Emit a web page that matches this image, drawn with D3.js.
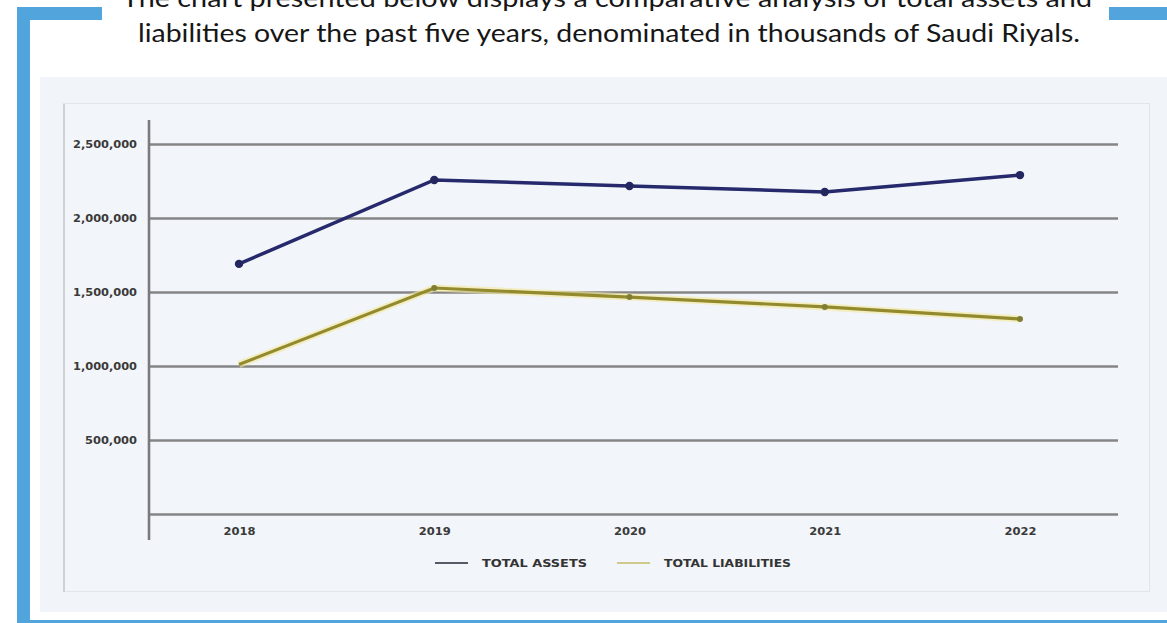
<!DOCTYPE html>
<html><head><meta charset="utf-8">
<script src="https://cdn.jsdelivr.net/npm/d3@7"></script>
<style>body{margin:0;background:#fff}svg{display:block}</style>
</head><body>
<svg id="c" width="1167" height="623"></svg>
<script>
const years = ["2018","2019","2020","2021","2022"];
const totalAssets = [1690000, 2257000, 2216000, 2176000, 2290000];
const totalLiabilities = [1010000, 1527000, 1466000, 1399000, 1318000];
const yTicks = [0, 500000, 1000000, 1500000, 2000000, 2500000];
const titleLines = [
  "The chart presented below displays a comparative analysis of total assets and",
  "liabilities over the past five years, denominated in thousands of Saudi Riyals."
];
const legendLabels = ["TOTAL ASSETS", "TOTAL LIABILITIES"];

const svg = d3.select("#c");
const blue = "#51a5dc";

// frame
svg.append("rect").attr("x",17).attr("y",7).attr("width",13).attr("height",616).attr("fill",blue);
svg.append("rect").attr("x",17).attr("y",7).attr("width",85).attr("height",13).attr("fill",blue);
svg.append("rect").attr("x",1109).attr("y",7).attr("width",58).attr("height",13).attr("fill",blue);
svg.append("rect").attr("x",17).attr("y",620).attr("width",1150).attr("height",3).attr("fill",blue);

// title
svg.selectAll("text.title").data(titleLines).enter().append("text")
  .attr("class","title")
  .attr("x", (d,i)=> i===0 ? 607 : 609)
  .attr("y", (d,i)=> 7 + i*35)
  .attr("text-anchor","middle")
  .attr("font-family","Lato, 'Open Sans', sans-serif")
  .attr("font-size",25)
  .attr("fill","#161616")
  .attr("textLength",(d,i)=> i===0 ? 970 : 942)
  .attr("lengthAdjust","spacingAndGlyphs")
  .text(d=>d);

// panel
svg.append("rect").attr("x",40).attr("y",77).attr("width",1127).attr("height",535).attr("fill","#f1f4f9");
svg.append("rect").attr("x",63.5).attr("y",103.5).attr("width",1086).attr("height",488)
  .attr("fill","#f2f5f9").attr("stroke","#e2e5ea").attr("stroke-width",1);
svg.append("line").attr("x1",64).attr("x2",64).attr("y1",104).attr("y2",592)
  .attr("stroke","#cfd1d4").attr("stroke-width",2);

const x = d3.scalePoint().domain(years).range([239, 1020]);
const y = d3.scaleLinear().domain([0, 2500000]).range([514, 144]);

// y axis with gridlines
const gy = svg.append("g").attr("transform","translate(149,0)")
  .call(d3.axisLeft(y).tickValues(yTicks).tickSize(-969).tickPadding(12)
    .tickFormat(d => d === 0 ? "" : d3.format(",")(d)));
gy.select(".domain").remove();
gy.selectAll(".tick line").attr("stroke","#858585").attr("stroke-width",2.6);
gy.selectAll(".tick text")
  .attr("font-family","'DejaVu Sans', sans-serif").attr("font-weight","bold")
  .attr("font-size",11).attr("fill","#3a3a3a")
  .attr("textLength", d => d >= 1000000 ? 64 : 52).attr("lengthAdjust","spacingAndGlyphs");

// vertical axis line
svg.append("line").attr("x1",149).attr("x2",149).attr("y1",120).attr("y2",540)
  .attr("stroke","#7a7a7a").attr("stroke-width",2.6);

// x axis labels
const gx = svg.append("g").attr("transform","translate(0,527)")
  .call(d3.axisBottom(x).tickSize(0).tickPadding(0));
gx.select(".domain").remove();
gx.selectAll(".tick text")
  .attr("font-family","'DejaVu Sans', sans-serif").attr("font-weight","bold")
  .attr("font-size",11).attr("fill","#3a3a3a")
  .attr("textLength",32).attr("lengthAdjust","spacingAndGlyphs");

const line = d3.line().x((d,i)=>x(years[i])).y(d=>y(d));

// liabilities
svg.append("path").datum(totalLiabilities).attr("d",line)
  .attr("fill","none").attr("stroke","#f3e89a").attr("stroke-width",7).attr("stroke-opacity",0.6);
svg.append("path").datum(totalLiabilities).attr("d",line)
  .attr("fill","none").attr("stroke","#938a2e").attr("stroke-width",3.2);
svg.selectAll("circle.l").data(totalLiabilities).enter().append("circle").attr("class","l")
  .attr("cx",(d,i)=>x(years[i])).attr("cy",d=>y(d)).attr("r",(d,i)=> i===0 ? 0 : 3)
  .attr("fill","#7f7e35");

// assets
svg.append("path").datum(totalAssets).attr("d",line)
  .attr("fill","none").attr("stroke","#26296b").attr("stroke-width",3.5);
svg.selectAll("circle.a").data(totalAssets).enter().append("circle").attr("class","a")
  .attr("cx",(d,i)=>x(years[i])).attr("cy",d=>y(d)).attr("r",4.2)
  .attr("fill","#23265f");

// legend
const legendColors = ["#555b66","#cfc98a"];
const legendX = [435, 617];
const lg = svg.append("g");
legendLabels.forEach((lab,i)=>{
  lg.append("line").attr("x1",legendX[i]).attr("x2",legendX[i]+33).attr("y1",563).attr("y2",563)
    .attr("stroke",legendColors[i]).attr("stroke-width",2);
  lg.append("text").attr("x",legendX[i]+47).attr("y",567)
    .attr("font-family","'DejaVu Sans', sans-serif").attr("font-weight","bold")
    .attr("font-size",11).attr("fill","#333")
    .attr("textLength", i===0 ? 105 : 127).attr("lengthAdjust","spacingAndGlyphs")
    .text(lab);
});
</script>
</body></html>
